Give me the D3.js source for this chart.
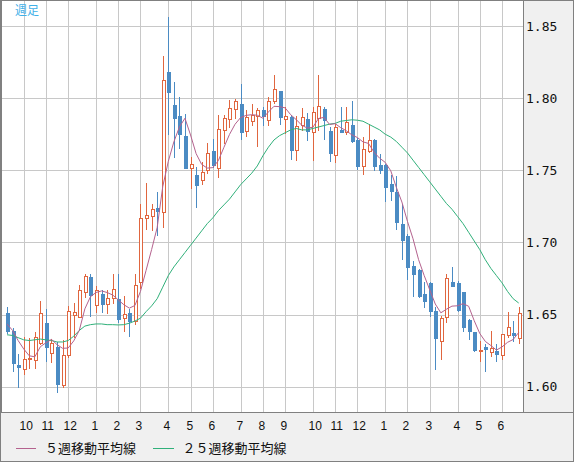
<!DOCTYPE html>
<html><head><meta charset="utf-8">
<script src="https://cdn.jsdelivr.net/npm/d3@7"></script>
<style>body{margin:0;background:#fff}svg{display:block}</style>
</head><body>
<script>
const opens = [1.6509,1.6384,1.6153,1.6123,1.6192,1.6185,1.6303,1.6444,1.6234,1.6278,
1.6014,1.6222,1.6500,1.6486,1.6655,1.6759,1.6567,1.6644,1.6574,1.6616,
1.6609,1.6477,1.6509,1.6458,1.6725,1.7170,1.7185,1.7238,1.7208,1.8180,
1.7951,1.7875,1.7736,1.7519,1.7465,1.7435,1.7500,1.7632,1.7519,1.7778,
1.7852,1.7926,1.7958,1.7769,1.7843,1.7875,1.7917,1.7847,1.7982,1.8049,
1.7857,1.7870,1.7639,1.7813,1.7852,1.7766,1.7861,1.7924,1.7773,1.7609,
1.7782,1.7766,1.7813,1.7713,1.7528,1.7634,1.7708,1.7535,1.7535,1.7403,
1.7350,1.7130,1.7042,1.6840,1.6806,1.6644,1.6718,1.6523,1.6320,1.6481,
1.6729,1.6718,1.6655,1.6465,1.6377,1.6250,1.6278,1.6241,1.6245,1.6220,
1.6361,1.6375,1.6338];
const highs = [1.6550,1.6410,1.6227,1.6343,1.6340,1.6377,1.6597,1.6540,1.6330,1.6308,
1.6324,1.6562,1.6580,1.6708,1.6778,1.6778,1.6700,1.6667,1.6670,1.6780,
1.6780,1.6632,1.6540,1.6778,1.7264,1.7414,1.7269,1.7350,1.8292,1.8560,
1.8113,1.8005,1.7889,1.7593,1.7523,1.7558,1.7692,1.7720,1.7880,1.7880,
1.7990,1.7995,1.8097,1.7917,1.7958,1.7929,1.7940,1.8009,1.8160,1.8052,
1.7940,1.7882,1.7875,1.7929,1.7894,1.7940,1.8160,1.7940,1.7800,1.7824,
1.7940,1.7940,1.7981,1.7727,1.7732,1.7819,1.7715,1.7616,1.7546,1.7465,
1.7458,1.7269,1.7060,1.6870,1.6817,1.6725,1.6725,1.6551,1.6493,1.6782,
1.6833,1.6731,1.6658,1.6468,1.6380,1.6320,1.6296,1.6389,1.6296,1.6366,
1.6516,1.6454,1.6551];
const lows = [1.6370,1.6111,1.5995,1.6088,1.6130,1.6130,1.6296,1.6180,1.6170,1.5960,
1.5995,1.6204,1.6343,1.6480,1.6620,1.6493,1.6516,1.6516,1.6510,1.6580,
1.6447,1.6389,1.6354,1.6435,1.6685,1.7095,1.7083,1.7049,1.7110,1.7750,
1.7593,1.7651,1.7515,1.7380,1.7245,1.7407,1.7480,1.7523,1.7454,1.7690,
1.7800,1.7859,1.7715,1.7736,1.7813,1.7667,1.7813,1.7813,1.7968,1.7820,
1.7760,1.7580,1.7569,1.7778,1.7708,1.7569,1.7778,1.7715,1.7565,1.7558,
1.7762,1.7750,1.7697,1.7512,1.7477,1.7630,1.7500,1.7482,1.7287,1.7292,
1.7095,1.6887,1.6748,1.6632,1.6620,1.6551,1.6493,1.6123,1.6192,1.6447,
1.6701,1.6528,1.6389,1.6331,1.6250,1.6181,1.6107,1.6215,1.6176,1.6192,
1.6343,1.6320,1.6303];
const closes = [1.6384,1.6162,1.6134,1.6192,1.6200,1.6347,1.6512,1.6273,1.6306,1.6019,
1.6220,1.6523,1.6520,1.6671,1.6764,1.6639,1.6671,1.6574,1.6616,1.6678,
1.6470,1.6505,1.6454,1.6708,1.7170,1.7190,1.7231,1.7218,1.8125,1.8046,
1.7863,1.7750,1.7519,1.7546,1.7400,1.7488,1.7623,1.7535,1.7789,1.7859,
1.7935,1.7977,1.7766,1.7866,1.7882,1.7917,1.7875,1.7980,1.8063,1.7870,
1.7875,1.7639,1.7810,1.7866,1.7773,1.7903,1.7944,1.7847,1.7620,1.7801,
1.7766,1.7836,1.7704,1.7528,1.7650,1.7713,1.7528,1.7500,1.7384,1.7356,
1.7141,1.7019,1.6829,1.6782,1.6632,1.6593,1.6523,1.6336,1.6477,1.6755,
1.6701,1.6535,1.6412,1.6384,1.6257,1.6257,1.6259,1.6269,1.6227,1.6366,
1.6417,1.6356,1.6512];
// first four 5-week MA values (need data before the chart start)
const ma5Start = [1.6435,1.6390,1.6320,1.6262];
const ma25 = [1.6360,1.6355,1.6340,1.6325,1.6320,1.6325,1.6330,1.6325,1.6320,1.6310,
1.6310,1.6320,1.6350,1.6390,1.6420,1.6430,1.6435,1.6435,1.6430,1.6430,
1.6428,1.6430,1.6440,1.6455,1.6475,1.6520,1.6560,1.6610,1.6690,1.6770,
1.6830,1.6880,1.6930,1.6980,1.7030,1.7080,1.7130,1.7170,1.7220,1.7260,
1.7300,1.7350,1.7400,1.7440,1.7480,1.7530,1.7600,1.7660,1.7710,1.7740,
1.7760,1.7780,1.7790,1.7780,1.7780,1.7790,1.7800,1.7810,1.7820,1.7825,
1.7840,1.7845,1.7850,1.7847,1.7840,1.7820,1.7800,1.7780,1.7750,1.7730,
1.7700,1.7660,1.7620,1.7570,1.7520,1.7470,1.7420,1.7370,1.7320,1.7270,
1.7230,1.7180,1.7130,1.7070,1.7010,1.6950,1.6880,1.6820,1.6770,1.6720,
1.6660,1.6610,1.6580];
const yTicks = [1.60,1.65,1.70,1.75,1.80,1.85];
const monthLabels = ["10","11","12","1","2","3","4","5","6","7","8","9","10","11","12","1","2","3","4","5","6"];
const monthIdx = [3,7,11,16,20,24,29,33,37,42,46,50,55,59,63,68,72,76,81,85,89];
const legendNames = ["５週移動平均線","２５週移動平均線"];
const periodLabel = "週足";

const W = 574, H = 462;
const plotR = 523, plotB = 412;
const cUp = "#e0663f", cDown = "#4b8bc3", cMa5 = "#b4628e", cMa25 = "#30b07a", cGrid = "#c8c8c8", cBorder = "#808080";

const ma5 = closes.map((c,i)=> i<4 ? ma5Start[i] : d3.mean(closes.slice(i-4,i+1)));

const x = d3.scaleLinear().domain([0, 92]).range([7, 518.7]);
const y = d3.scaleLinear().domain([1.60, 1.85]).range([386.7, 26]);

const svg = d3.select("body").append("svg").attr("width", W).attr("height", H);
svg.append("rect").attr("width", W).attr("height", H).attr("fill", "#f0f0f0");
svg.append("rect").attr("x",0).attr("y",0).attr("width", plotR).attr("height", plotB).attr("fill", "#fff");

// grid
const grid = svg.append("g").attr("stroke", cGrid).attr("stroke-width", 1);
yTicks.forEach(t => {
  const yy = Math.round(y(t)) + 0.5;
  grid.append("line").attr("x1",0).attr("x2",plotR).attr("y1",yy).attr("y2",yy);
});
monthIdx.forEach(i => {
  const xx = Math.round(x(i)) + 0.5;
  grid.append("line").attr("x1",xx).attr("x2",xx).attr("y1",0).attr("y2",plotB);
});

// candles
const cg = svg.append("g");
closes.forEach((c,i) => {
  const o = opens[i], up = c >= o;
  const col = up ? cUp : cDown;
  const cx = Math.round(x(i));
  const yTop = Math.round(y(Math.max(o,c))), yBot = Math.round(y(Math.min(o,c)));
  const yH = Math.round(y(highs[i])), yL = Math.round(y(lows[i]));
  cg.append("line").attr("x1",cx+0.5).attr("x2",cx+0.5).attr("y1",yH).attr("y2",yTop).attr("stroke",col);
  cg.append("line").attr("x1",cx+0.5).attr("x2",cx+0.5).attr("y1",yBot).attr("y2",yL+1).attr("stroke",col);
  if (up) {
    cg.append("rect").attr("x",cx-0.5).attr("y",yTop+0.5).attr("width",3).attr("height",Math.max(1,yBot-yTop))
      .attr("fill","#fff").attr("stroke",col).attr("stroke-width",1);
  } else {
    cg.append("rect").attr("x",cx-1).attr("y",yTop).attr("width",4).attr("height",Math.max(1,yBot-yTop+1))
      .attr("fill",col);
  }
});

// moving averages
const line = d3.line().x((d,i)=>x(i)).y(d=>y(d));
svg.append("path").datum(ma25).attr("d", line).attr("fill","none").attr("stroke",cMa25).attr("stroke-width",1);
svg.append("path").datum(ma5).attr("d", line).attr("fill","none").attr("stroke",cMa5).attr("stroke-width",1);

// frame lines
svg.append("line").attr("x1",plotR+0.5).attr("x2",plotR+0.5).attr("y1",0).attr("y2",plotB).attr("stroke",cBorder);
svg.append("line").attr("x1",0).attr("x2",W).attr("y1",plotB+0.5).attr("y2",plotB+0.5).attr("stroke",cBorder);
svg.append("rect").attr("x",0.5).attr("y",0.5).attr("width",W-1).attr("height",H-1).attr("fill","none").attr("stroke",cBorder);
svg.append("line").attr("x1",1.5).attr("x2",1.5).attr("y1",0).attr("y2",plotB).attr("stroke",cBorder);

// y axis labels
svg.append("g").selectAll("text").data(yTicks).join("text")
  .attr("x", 526).attr("y", d=>y(d)).attr("dy","0.36em")
  .attr("font-family","'DejaVu Sans Mono', monospace").attr("font-size",13).attr("fill","#111")
  .text(d=>d.toFixed(2));

// x labels
svg.append("g").selectAll("text").data(monthLabels).join("text")
  .attr("x",(d,k)=>Math.round(x(monthIdx[k]))-4.5).attr("y",429.5)
  .attr("font-family","'Liberation Sans', Arial, sans-serif").attr("font-size",12).attr("fill","#111")
  .text(d=>d);

// period label
svg.append("text").attr("x",15).attr("y",15).attr("font-family","'Noto Sans CJK JP', sans-serif")
  .attr("font-size",12).attr("fill","#3fb0e8").text(periodLabel);

// legend
const lg = svg.append("g");
[[16,36,45,cMa5],[153,174,182.5,cMa25]].forEach((p,k)=>{
  lg.append("line").attr("x1",p[0]).attr("x2",p[1]).attr("y1",448.5).attr("y2",448.5).attr("stroke",p[3]);
  lg.append("text").attr("x",p[2]).attr("y",448).attr("dy","0.36em")
    .attr("font-family","'Noto Sans CJK JP', sans-serif").attr("font-size",13).attr("fill","#111")
    .text(legendNames[k]);
});
</script>
</body></html>
